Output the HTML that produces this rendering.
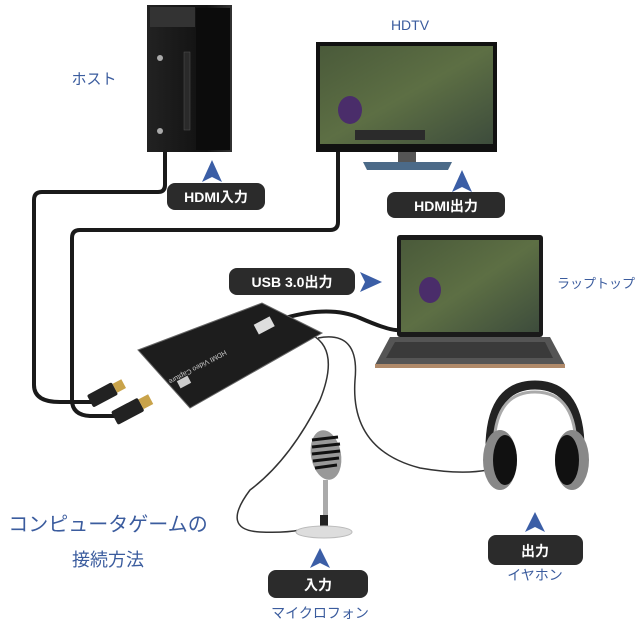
<!DOCTYPE html>
<html><head><meta charset="utf-8"><style>
html,body{margin:0;padding:0;background:#fff;width:640px;height:626px;overflow:hidden}
svg{display:block}
.lbl{font-family:"Liberation Sans","Noto Sans CJK JP",sans-serif;font-weight:bold;fill:#fff;font-size:14px}
.blue{font-family:"Liberation Sans","Noto Sans CJK JP",sans-serif;fill:#3b5c9e}
</style></head><body>
<svg width="640" height="626" viewBox="0 0 640 626" xmlns="http://www.w3.org/2000/svg">
<defs>
<linearGradient id="scr" x1="0" y1="0" x2="1" y2="1"><stop offset="0" stop-color="#4a5a3a"/><stop offset="0.5" stop-color="#5d6f44"/><stop offset="1" stop-color="#3d4c3c"/></linearGradient>
<linearGradient id="tw" x1="0" x2="1"><stop offset="0" stop-color="#222"/><stop offset="0.7" stop-color="#111"/><stop offset="1" stop-color="#333"/></linearGradient>
</defs>
<!-- cables -->
<g fill="none" stroke="#1a1a1a" stroke-width="4" stroke-linecap="round">
<path d="M165 150 V185 Q165 192 158 192 H42 Q34 192 34 200 V385 Q34 402 60 402 H92"/>
<path d="M338 150 V222 Q338 230 330 230 H80 Q72 230 72 238 V400 Q72 415 90 416 H118"/>
<path d="M285 318 Q330 305 360 318 T398 330"/>
</g>
<g fill="none" stroke="#333" stroke-width="1.5">
<path d="M318 338 Q360 330 355 380 Q350 450 420 468 Q460 475 488 470"/>
<path d="M312 335 Q340 350 320 400 Q290 460 250 490 Q220 530 260 532 Q285 533 300 530"/>
</g>
<!-- tower -->
<rect x="147" y="5" width="85" height="147" fill="url(#tw)"/>
<rect x="150" y="7" width="45" height="20" fill="#333"/>
<rect x="196" y="8" width="34" height="142" fill="#0c0c0c"/>
<rect x="184" y="52" width="6" height="78" fill="#2a2a2a" stroke="#555" stroke-width="0.5"/>
<circle cx="160" cy="58" r="3" fill="#aaa"/><circle cx="160" cy="131" r="3" fill="#aaa"/>
<rect x="150" y="158" width="0" height="0"/>
<!-- monitor -->
<rect x="316" y="42" width="181" height="110" fill="#111"/>
<rect x="320" y="46" width="173" height="98" fill="url(#scr)"/>
<ellipse cx="350" cy="110" rx="12" ry="14" fill="#4a2d6a"/>
<rect x="355" y="130" width="70" height="10" fill="#2b2b2b"/>
<rect x="398" y="152" width="18" height="10" fill="#555"/>
<path d="M363 162 H452 L448 170 H367 Z" fill="#4b6a88"/>
<!-- laptop -->
<rect x="397" y="235" width="146" height="102" rx="3" fill="#1a1a1a"/>
<rect x="401" y="240" width="138" height="92" fill="url(#scr)"/>
<ellipse cx="430" cy="290" rx="11" ry="13" fill="#4a2d6a"/>
<path d="M390 337 H550 L565 365 H375 Z" fill="#555"/>
<path d="M395 342 H545 L553 358 H386 Z" fill="#3a3a3a"/>
<rect x="375" y="364" width="190" height="4" fill="#b08a6a"/>
<!-- capture box -->
<path d="M138 350 L262 303 L322 333 L190 408 Z" fill="#1d1d1d" stroke="#666" stroke-width="1"/>
<text x="225" y="350" font-family="Liberation Sans" font-size="7" fill="#ccc" transform="rotate(-28 225 350) scale(-1 -1) translate(-450 -700)">HDMI Video Capture</text>
<rect x="255" y="320" width="18" height="11" fill="#ddd" transform="rotate(-28 264 325)"/>
<rect x="178" y="378" width="12" height="8" fill="#ccc" transform="rotate(-28 184 382)"/>
<!-- hdmi plugs -->
<g transform="rotate(-28 110 392)"><rect x="88" y="384" width="28" height="14" rx="2" fill="#222"/><rect x="116" y="386" width="10" height="10" fill="#c9a34a"/></g>
<g transform="rotate(-28 135 408)"><rect x="112" y="400" width="30" height="15" rx="2" fill="#222"/><rect x="142" y="402" width="11" height="11" fill="#c9a34a"/></g>
<!-- headphones -->
<path d="M490 455 Q488 385 535 385 Q582 385 580 455" fill="none" stroke="#222" stroke-width="9"/>
<path d="M494 455 Q492 392 535 392 Q578 392 576 455" fill="none" stroke="#aaa" stroke-width="3"/>
<ellipse cx="500" cy="460" rx="17" ry="30" fill="#888"/><ellipse cx="505" cy="460" rx="12" ry="25" fill="#111"/>
<ellipse cx="572" cy="460" rx="17" ry="30" fill="#888"/><ellipse cx="567" cy="460" rx="12" ry="25" fill="#111"/>
<!-- microphone -->
<ellipse cx="326" cy="455" rx="15" ry="25" fill="#999" transform="rotate(-10 326 455)"/>
<g stroke="#111" stroke-width="3"><line x1="312" y1="440" x2="338" y2="437"/><line x1="312" y1="447" x2="340" y2="444"/><line x1="312" y1="454" x2="340" y2="451"/><line x1="313" y1="461" x2="339" y2="458"/><line x1="315" y1="468" x2="337" y2="465"/></g>
<rect x="323" y="480" width="5" height="45" fill="#aaa"/>
<rect x="320" y="515" width="8" height="14" fill="#222"/>
<ellipse cx="324" cy="532" rx="28" ry="6" fill="#ddd" stroke="#bbb"/>
<!-- arrows -->
<g fill="#3b5ea6">
<path d="M212 160 L222 182 L212 177 L202 182 Z"/>
<path d="M462 170 L472 192 L462 187 L452 192 Z"/>
<path d="M382 282 L360 272 L365 282 L360 292 Z"/>
<path d="M320 548 L330 568 L320 563 L310 568 Z"/>
<path d="M535 512 L545 532 L535 527 L525 532 Z"/>
</g>
<!-- label boxes -->
<g fill="#2b2b2b">
<rect x="167" y="183" width="98" height="27" rx="8"/>
<rect x="387" y="192" width="118" height="26" rx="8"/>
<rect x="229" y="268" width="126" height="27" rx="8"/>
<rect x="268" y="570" width="100" height="28" rx="8"/>
<rect x="488" y="535" width="95" height="30" rx="8"/>
</g>
<text class="lbl" x="216" y="202" text-anchor="middle">HDMI入力</text>
<text class="lbl" x="446" y="211" text-anchor="middle">HDMI出力</text>
<text class="lbl" x="292" y="287" text-anchor="middle">USB 3.0出力</text>
<text class="lbl" x="318" y="590" text-anchor="middle">入力</text>
<text class="lbl" x="535" y="556" text-anchor="middle">出力</text>
<text class="blue" x="94" y="84" font-size="15" text-anchor="middle">ホスト</text>
<text class="blue" x="410" y="30" font-size="14" text-anchor="middle">HDTV</text>
<text class="blue" x="596" y="288" font-size="13" text-anchor="middle">ラップトップ</text>
<text class="blue" x="535" y="580" font-size="14" text-anchor="middle">イヤホン</text>
<text class="blue" x="320" y="618" font-size="14" text-anchor="middle">マイクロフォン</text>
<text class="blue" x="108" y="531" font-size="20" text-anchor="middle">コンピュータゲームの</text>
<text class="blue" x="108" y="566" font-size="18" text-anchor="middle">接続方法</text>
</svg>
</body></html>
